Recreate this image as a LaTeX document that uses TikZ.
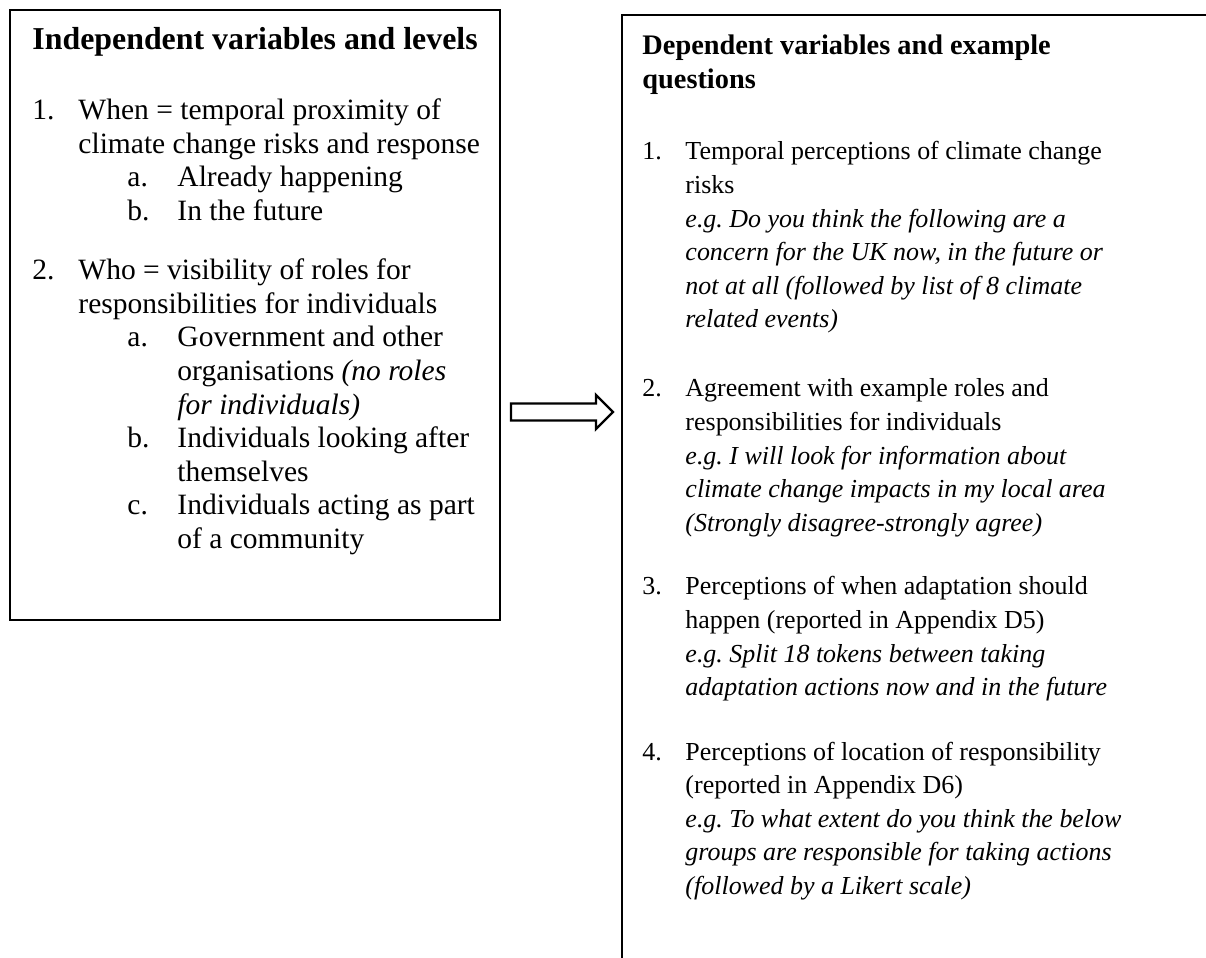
\documentclass[tikz,border=0pt]{standalone}
\usepackage{fontspec}
\setmainfont{Liberation Serif}
\frenchspacing
\begin{document}
\begin{tikzpicture}[x=0.4237pt,y=-0.4237pt,
    box/.style={draw,line width=1pt},
    lt/.style={anchor=base west,inner sep=0pt,
        font=\fontsize{12.5pt}{14.2pt}\selectfont},
    rt/.style={anchor=base west,inner sep=0pt,
        font=\fontsize{11pt}{14.2pt}\selectfont}]
    \useasboundingbox (0,0) rectangle (1206,958);
    \clip (0,0) rectangle (1206,958);

    % Left box: independent variables.
    \draw[box] (10,10) coordinate (ivnw) rectangle (500,620) coordinate (ivse);
    \node[lt,font=\fontsize{13.5pt}{14.2pt}\selectfont\bfseries] (ivtitle)
        at (32,50) {Independent variables and levels};
    \node[lt] (ivn1) at (32,120) {1.};
    \node[lt] (ivt1) at (78,120)
        {\parbox[t]{12cm}{When = temporal proximity of\\
        climate change risks and response}};
    \node[lt] (ivn1a) at (127,187) {a.};
    \node[lt] (ivt1a) at (177,187) {Already happening};
    \node[lt] (ivn1b) at (127,220.5) {b.};
    \node[lt] (ivt1b) at (177,220.5) {In the future};
    \node[lt] (ivn2) at (32,280) {2.};
    \node[lt] (ivt2) at (78,280)
        {\parbox[t]{12cm}{Who = visibility of roles for\\
        responsibilities for individuals}};
    \node[lt] (ivn2a) at (127,347) {a.};
    \node[lt] (ivt2a) at (177,347)
        {\parbox[t]{12cm}{Government and other\\
        organisations \textit{(no roles}\\
        \textit{for individuals)}}};
    \node[lt] (ivn2b) at (127,447.5) {b.};
    \node[lt] (ivt2b) at (177,447.5)
        {\parbox[t]{12cm}{Individuals looking after\\themselves}};
    \node[lt] (ivn2c) at (127,514.5) {c.};
    \node[lt] (ivt2c) at (177,514.5)
        {\parbox[t]{12cm}{Individuals acting as part\\of a community}};

    % Hollow arrow between the boxes.
    \coordinate (arrS) at (511,412);
    \coordinate (arrE) at (613,412);
    \draw[line width=1pt] (arrS) ++(0,-8.5) -- ++(85,0) -- ++(0,-8.5)
        -- (arrE) -- ++(-17,17) -- ++(0,-8.5) -- ++(-85,0) -- cycle;

    % Right box: dependent variables.
    \draw[box] (622,15) coordinate (dvnw) rectangle (1260,1010) coordinate (dvse);
    \node[rt,font=\fontsize{12pt}{14pt}\selectfont\bfseries] (dvtitle) at (642,55)
        {\parbox[t]{12cm}{Dependent variables and example\\questions}};
    \node[rt] (dvn1) at (642,160) {1.};
    \node[rt] (dvt1) at (685,160)
        {\parbox[t]{12cm}{Temporal perceptions of climate change\\
        risks\\
        \textit{e.g. Do you think the following are a\\
        concern for the UK now, in the future or\\
        not at all (followed by list of 8 climate\\
        related events)}}};
    \node[rt] (dvn2) at (642,397) {2.};
    \node[rt] (dvt2) at (685,397)
        {\parbox[t]{12cm}{Agreement with example roles and\\
        responsibilities for individuals\\
        \textit{e.g. I will look for information about\\
        climate change impacts in my local area\\
        (Strongly disagree-strongly agree)}}};
    \node[rt] (dvn3) at (642,595) {3.};
    \node[rt] (dvt3) at (685,595)
        {\parbox[t]{12cm}{Perceptions of when adaptation should\\
        happen (reported in Appendix D5)\\
        \textit{e.g. Split 18 tokens between taking\\
        adaptation actions now and in the future}}};
    \node[rt] (dvn4) at (642,760) {4.};
    \node[rt] (dvt4) at (685,760)
        {\parbox[t]{12cm}{Perceptions of location of responsibility\\
        (reported in Appendix D6)\\
        \textit{e.g. To what extent do you think the below\\
        groups are responsible for taking actions\\
        (followed by a Likert scale)}}};
\end{tikzpicture}
\end{document}
